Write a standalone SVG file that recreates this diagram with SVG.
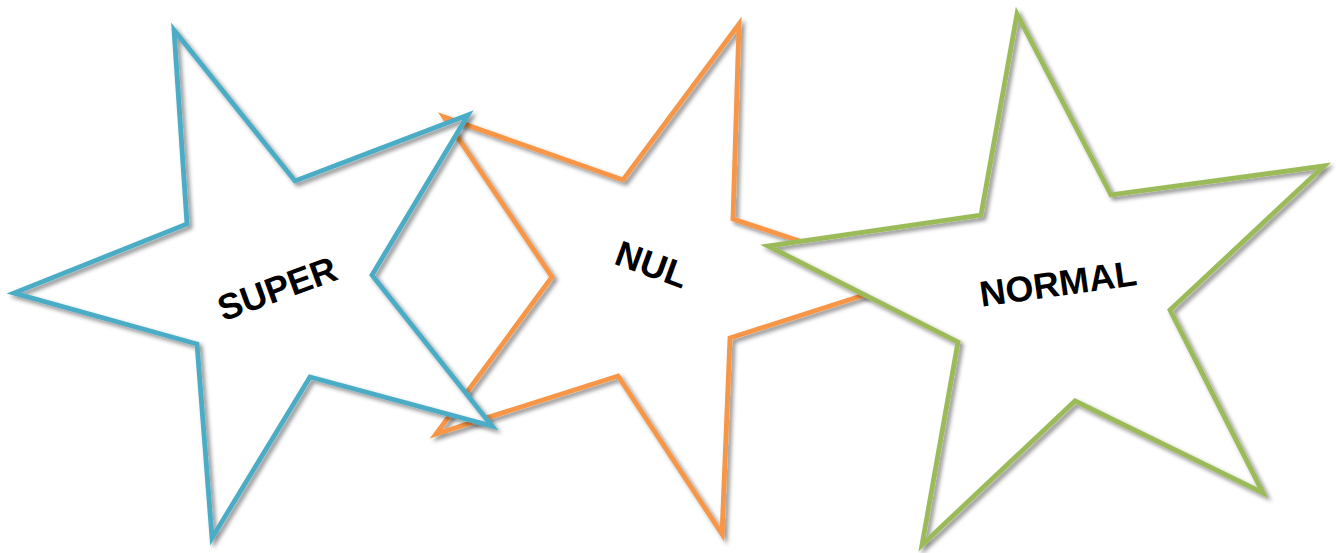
<svg xmlns="http://www.w3.org/2000/svg" width="1336" height="553" viewBox="0 0 1336 553">
<defs>
<filter id="sh" x="-10%" y="-10%" width="120%" height="120%">
<feDropShadow dx="3" dy="3" stdDeviation="2" flood-color="#000" flood-opacity="0.45"/>
</filter>
<style>
.fill{fill:#fff;stroke:none}
.edge{fill:none;stroke-width:4.8;stroke-linejoin:miter;stroke-miterlimit:20;filter:url(#sh)}
.lbl{font-family:"Liberation Sans",Arial,sans-serif;font-weight:bold;font-size:36px;fill:#000;text-anchor:middle}
</style>
</defs>
<rect width="1336" height="553" fill="#fff"/>
<g id="star-nul">
<polygon class="fill" points="739,24 733,219 914,279 730,338 722,534 618,376 436,434 552,277 444,117 623,180"/>
<polygon class="edge" stroke="#F79646" points="739,24 733,219 914,279 730,338 722,534 618,376 436,434 552,277 444,117 623,180"/>
<text class="lbl" transform="translate(652,264) rotate(20)" y="13">NUL</text>
</g>
<g id="star-super">
<polygon class="fill" points="174,30 295,181 468,115 372,275 492,426 310,377 212,538 197,344 14,293 187,224"/>
<polygon class="edge" stroke="#4BACC6" points="174,30 295,181 468,115 372,275 492,426 310,377 212,538 197,344 14,293 187,224"/>
<text class="lbl" transform="translate(277,288) rotate(-20)" y="13">SUPER</text>
</g>
<g id="star-normal">
<polygon class="fill" points="1017,14 1111,195 1324,166 1170,310 1263,493 1075,401 922,545 958,342 768,246 981,215"/>
<polygon class="edge" stroke="#9BBB59" points="1017,14 1111,195 1324,166 1170,310 1263,493 1075,401 922,545 958,342 768,246 981,215"/>
<text class="lbl" transform="translate(1058,283) rotate(-8)" y="13">NORMAL</text>
</g>
<g id="connectors"/>
</svg>
